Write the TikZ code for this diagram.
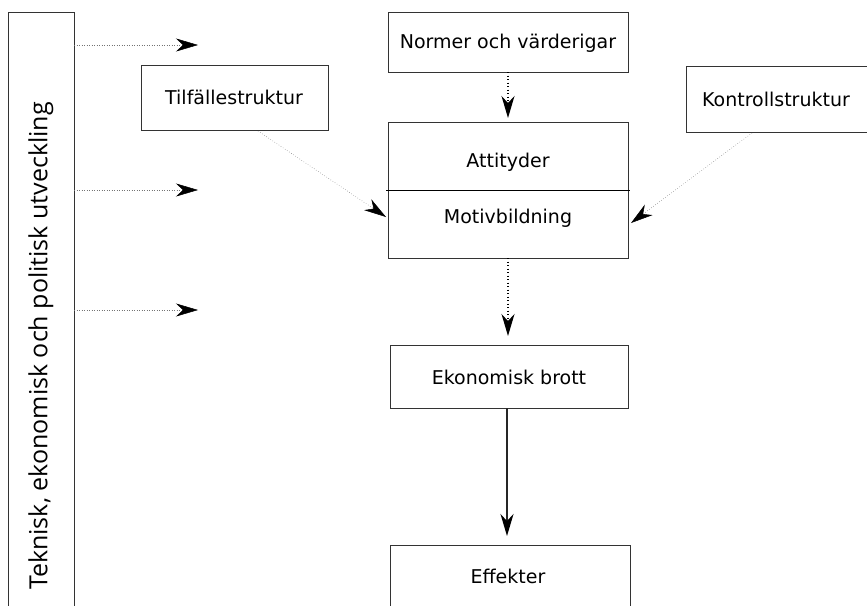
\documentclass[tikz,border=0pt]{standalone}
\usepackage{fontspec}
\setmainfont{DejaVu Sans}
\newfontfamily\sidefont{Open Sans}
\usetikzlibrary{arrows.meta}
\begin{document}
\begin{tikzpicture}[x=1pt,y=-1pt,
  box/.style={draw=black!80, line width=0.9pt},
  lbl/.style={font=\fontsize{19}{22}\selectfont},
  tip/.style={-{Stealth[length=22pt,width=13pt,inset=7pt,color=black]}},
  faint/.style={tip, draw=black!55, line width=0.5pt, dotted},
  dots/.style={tip, draw=black, line width=1.3pt, dash pattern=on 1.3pt off 2.2pt},
  solid/.style={tip, draw=black!85, line width=2pt}]
\useasboundingbox (0,0) rectangle (867,605);
% left box (cut at bottom)
\draw[box] (8,610) -- (8,12) -- (74,12) -- (74,610);
\node[rotate=90, font=\sidefont\fontsize{25}{28}\selectfont] (side) at (41,346) {Teknisk, ekonomisk och politisk utveckling};
\coordinate (s1) at (74,45);  \coordinate (e1) at (198,45);
\coordinate (s2) at (74,190); \coordinate (e2) at (198,190);
\coordinate (s3) at (74,310); \coordinate (e3) at (198,310);
\draw[faint] (s1) -- (e1);
\draw[faint] (s2) -- (e2);
\draw[faint] (s3) -- (e3);
% boxes
\draw[box] (388,12) rectangle (628,72);
\node[lbl] (norm) at (508,43) {Normer och värderigar};
\draw[box] (141,65) rectangle (328,130);
\node[lbl] (tilf) at (234,97) {Tilfällestruktur};
\draw[box] (686,66) rectangle (870,132);
\node[lbl] (kont) at (776,99) {Kontrollstruktur};
\draw[box] (388,122) rectangle (628,258);
\draw[line width=0.9pt] (386,190) -- (630,190);
\node[lbl] (att) at (508,162) {Attityder};
\node[lbl] (motiv) at (508,218) {Motivbildning};
\draw[box] (390,345) rectangle (628,408);
\node[lbl] (brott) at (509,377) {Ekonomisk brott};
\draw[box] (390,610) -- (390,545) -- (630,545) -- (630,610);
\node[lbl] (eff) at (508,576) {Effekter};
% connectors
\coordinate (nb) at (508,72);  \coordinate (at) at (508,118);
\coordinate (tb) at (258,131); \coordinate (ml) at (386,217);
\coordinate (kb) at (752,133); \coordinate (mr) at (631,223);
\coordinate (mb) at (508,258); \coordinate (bt) at (508,336);
\coordinate (bb) at (507,408); \coordinate (et) at (507,536);
\draw[dots] (nb) -- (at);
\draw[faint] (tb) -- (ml);
\draw[faint] (kb) -- (mr);
\draw[dots] (mb) -- (bt);
\draw[solid] (bb) -- (et);
\end{tikzpicture}
\end{document}
